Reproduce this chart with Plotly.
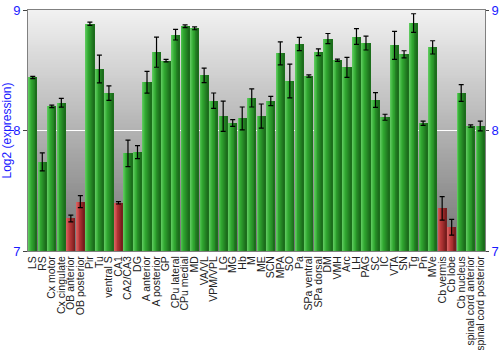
import plotly.graph_objects as go

# Brain regions and their mean log2 expression with error half-widths
regions = ["LS", "RS", "Cx motor", "Cx cingulate", "OB anterior", "OB posterior", "Pir", "Tu",
           "ventral S", "CA1", "CA2/CA3", "DG", "A anterior", "A posterior", "GP", "CPu lateral",
           "CPu medial", "MD", "VA/VL", "VPM/VPL", "LG", "MG", "Hb", "M", "ME", "SCN", "MPA",
           "SO", "Pa", "SPa ventral", "SPa dorsal", "DM", "VMH", "Arc", "LH", "PAG", "SC", "IC",
           "VTA", "SN", "Tg", "Pn", "MVe", "Cb vermis", "Cb lobe", "Cb nucleus",
           "spinal cord anterior", "spinal cord posterior"]

expression = [8.44, 7.74, 8.20, 8.23, 7.27, 7.41, 8.886, 8.51,
              8.31, 7.40, 7.81, 7.82, 8.40, 8.65, 8.58, 8.795,
              8.865, 8.848, 8.458, 8.247, 8.118, 8.062, 8.10, 8.27, 8.12, 8.245, 8.64,
              8.41, 8.718, 8.452, 8.65, 8.763, 8.583, 8.524, 8.78, 8.726, 8.253, 8.11,
              8.707, 8.632, 8.892, 8.06, 8.69, 7.354, 7.197, 8.311,
              8.037, 8.037]

error = [0.01, 0.075, 0.01, 0.036, 0.028, 0.05, 0.014, 0.115,
         0.06, 0.01, 0.11, 0.054, 0.09, 0.125, 0.01, 0.044,
         0.012, 0.012, 0.06, 0.064, 0.125, 0.028, 0.095, 0.075, 0.10, 0.039, 0.095,
         0.14, 0.055, 0.01, 0.028, 0.042, 0.01, 0.083, 0.065, 0.058, 0.061, 0.025,
         0.116, 0.03, 0.077, 0.018, 0.055, 0.097, 0.066, 0.069,
         0.01, 0.04]

low_cutoff = 7.5
y_range = [7, 9]
y_ticks = [7, 8, 9]

BAR_WIDTH = 0.86
N_STRIPS = 9


def lerp(c1, c2, t):
    return tuple(round(a + (b - a) * t) for a, b in zip(c1, c2))


def rgb(c):
    return "rgb(%d,%d,%d)" % c


# horizontal shading of each bar: light left edge -> dark right edge
green_stops = [(92, 200, 92), (50, 170, 50), (38, 140, 38), (28, 110, 28)]
red_stops = [(215, 95, 95), (190, 60, 60), (160, 45, 45), (120, 30, 30)]


def shade(stops, t):
    seg = min(int(t * (len(stops) - 1)), len(stops) - 2)
    local = t * (len(stops) - 1) - seg
    return lerp(stops[seg], stops[seg + 1], local)


fig = go.Figure()

strip_w = BAR_WIDTH / N_STRIPS
for k in range(N_STRIPS):
    t = k / (N_STRIPS - 1)
    colors = [rgb(shade(red_stops if v < low_cutoff else green_stops, t)) for v in expression]
    fig.add_trace(go.Bar(
        x=regions, y=[v - y_range[0] for v in expression], base=y_range[0],
        width=strip_w + 0.004, offset=-BAR_WIDTH / 2 + k * strip_w,
        marker=dict(color=colors, line=dict(width=0)),
        hoverinfo="skip", showlegend=False,
    ))

# error whiskers at bar centres
fig.add_trace(go.Scatter(
    x=regions, y=expression, mode="markers",
    marker=dict(size=1, color="rgba(0,0,0,0)"),
    error_y=dict(type="data", array=error, color="black", thickness=1.2, width=2.5),
    showlegend=False,
))

# right-hand copy of the value axis
fig.add_trace(go.Scatter(x=[regions[0]], y=[y_range[0]], yaxis="y2", mode="markers",
                         marker=dict(size=1, color="rgba(0,0,0,0)"), showlegend=False,
                         hoverinfo="skip"))

# vertical grey gradient behind the plotting area
n_bands = 120
top_c, bot_c = (242, 242, 242), (115, 115, 115)
shapes = []
for i in range(n_bands):
    c = lerp(bot_c, top_c, (i + 0.5) / n_bands)
    shapes.append(dict(type="rect", xref="paper", yref="paper",
                       x0=0, x1=1, y0=i / n_bands, y1=(i + 1) / n_bands + 0.004,
                       fillcolor=rgb(c), line=dict(width=0), layer="below"))

tick_font = dict(family="Liberation Sans, Arial", size=13, color="#1a1aff")

fig.update_layout(
    width=500, height=350,
    margin=dict(l=28, r=15, t=10, b=99),
    paper_bgcolor="white", plot_bgcolor="rgba(0,0,0,0)",
    shapes=shapes, bargap=0, barmode="overlay",
    xaxis=dict(tickangle=-90, tickmode="linear", dtick=1,
               tickfont=dict(family="Liberation Sans, Arial", size=10.5, color="#222"),
               showgrid=False, showline=True, linecolor="#808080", mirror=True,
               ticks="", ticklen=0, automargin=False, range=[-0.5, len(regions) - 0.5]),
    yaxis=dict(range=y_range, tickvals=y_ticks, tickfont=tick_font,
               showgrid=True, gridcolor="white", gridwidth=1, zeroline=False,
               showline=True, linecolor="#808080", ticks="outside", ticklen=4,
               tickcolor="#444", automargin=False,
               title=dict(text="Log2 (expression)", standoff=2,
                          font=dict(family="Liberation Sans, Arial", size=12, color="#1a1aff"))),
    yaxis2=dict(range=y_range, tickvals=y_ticks, tickfont=tick_font, overlaying="y",
                side="right", showgrid=False, zeroline=False, showline=True,
                linecolor="#808080", ticks="outside", ticklen=3, tickcolor="#444",
                automargin=False),
)

fig.write_html("out.html")
